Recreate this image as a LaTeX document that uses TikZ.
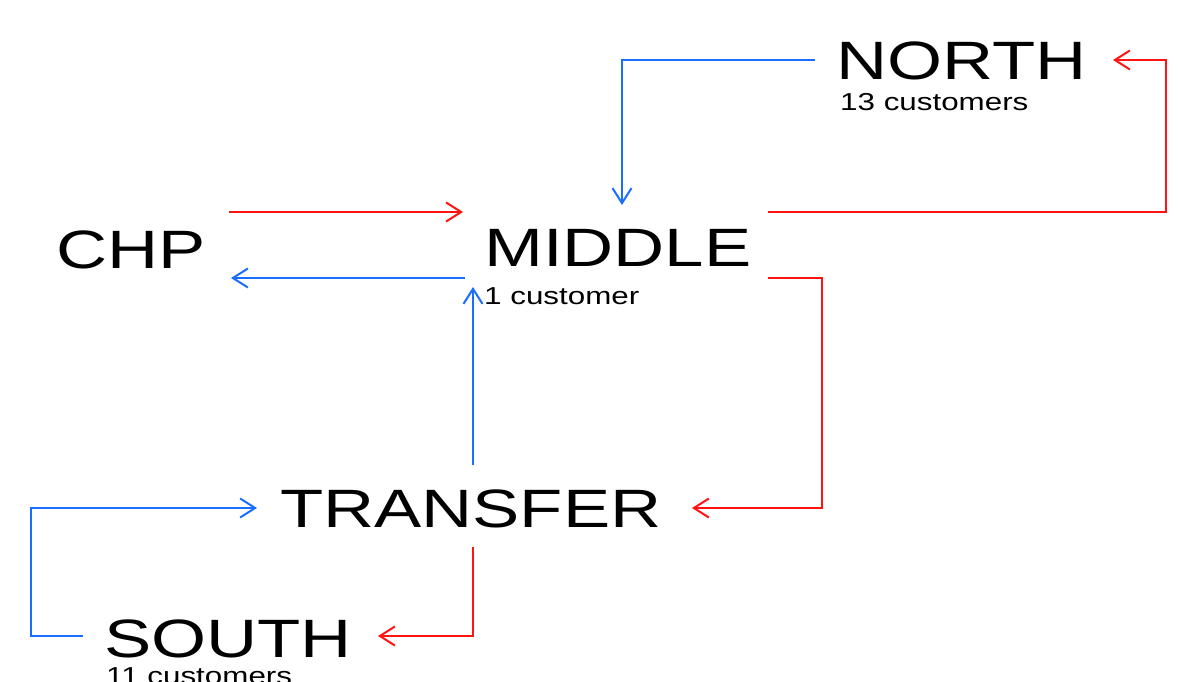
\documentclass[tikz,border=0pt]{standalone}
\usepackage{fontspec}
\setmainfont{Liberation Sans}
\newfontfamily\bigface[FakeStretch=1.31]{Liberation Sans}
\newfontfamily\smallface[FakeStretch=1.28]{Liberation Sans}
\usetikzlibrary{arrows.meta}
\definecolor{flowred}{RGB}{255,20,20}
\definecolor{flowblue}{RGB}{25,110,255}
\begin{document}
\begin{tikzpicture}[x=1pt,y=-1pt,
  bigname/.style={font={\bigface\fontsize{54}{54}\selectfont}, inner sep=0pt, anchor=base west},
  smallname/.style={font={\smallface\fontsize{24.5}{24.5}\selectfont}, inner sep=0pt, anchor=base west},
  flow/.style={line width=2pt, -{Straight Barb[length=15pt,width=19pt,line width=2pt]}},
  redflow/.style={flow, draw=flowred},
  blueflow/.style={flow, draw=flowblue}]
\clip (0,0) rectangle (1178,682);
\fill[white] (0,0) rectangle (1178,682);
% nodes
\node[bigname] (north) at (836,80) {NORTH};
\node[smallname] (northc) at (840,111) {13 customers};
\node[bigname] (middle) at (484,266) {MIDDLE};
\node[smallname] (middlec) at (484,304) {1 customer};
\node[bigname] (chp) at (56,268) {CHP};
\node[bigname] (transfer) at (280,527) {TRANSFER};
\node[bigname] (south) at (104,657) {SOUTH};
\node[smallname] (southc) at (106,684) {11 customers};
% connector end points
\coordinate (northL) at (815,60);
\coordinate (northR) at (1113,60);
\coordinate (middleT) at (622,205);
\coordinate (middleLin) at (463,212);
\coordinate (middleLout) at (465,278);
\coordinate (middleRa) at (768,212);
\coordinate (middleRb) at (768,278);
\coordinate (middleB) at (473,287);
\coordinate (chpRa) at (229,212);
\coordinate (chpRb) at (231,278);
\coordinate (transferL) at (257,508);
\coordinate (transferR) at (692,508);
\coordinate (transferT) at (473,465);
\coordinate (transferB) at (473,547);
\coordinate (southL) at (83,636);
\coordinate (southR) at (378,636);
% connectors
\draw[blueflow] (northL) -| (middleT);
\draw[redflow] (middleRa) -- (1166,212) |- (northR);
\draw[redflow] (chpRa) -- (middleLin);
\draw[blueflow] (middleLout) -- (chpRb);
\draw[redflow] (middleRb) -- (822,278) |- (transferR);
\draw[blueflow] (transferT) -- (middleB);
\draw[blueflow] (southL) -- (31,636) |- (transferL);
\draw[redflow] (transferB) |- (southR);
\end{tikzpicture}
\end{document}
